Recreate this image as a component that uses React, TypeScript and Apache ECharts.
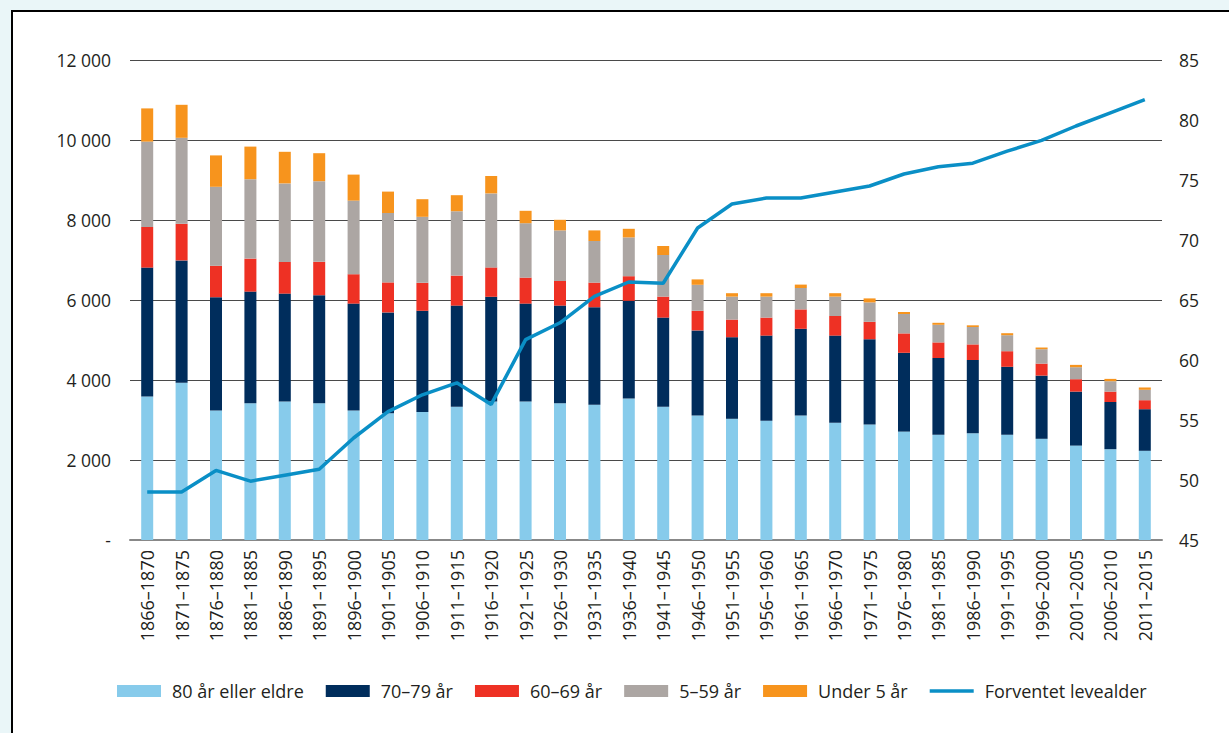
import React, { useEffect, useRef } from "react";
import * as echarts from "echarts";

const categories = [
  "1866–1870", "1871–1875", "1876–1880", "1881–1885", "1886–1890", "1891–1895",
  "1896–1900", "1901–1905", "1906–1910", "1911–1915", "1916–1920", "1921–1925",
  "1926–1930", "1931–1935", "1936–1940", "1941–1945", "1946–1950", "1951–1955",
  "1956–1960", "1961–1965", "1966–1970", "1971–1975", "1976–1980", "1981–1985",
  "1986–1990", "1991–1995", "1996–2000", "2001–2005", "2006–2010", "2011–2015",
];

const age80plus = [3590, 3930, 3240, 3420, 3460, 3420, 3240, 3170, 3200, 3330, 3460, 3460, 3420, 3380, 3540, 3330, 3110, 3030, 2980, 3110, 2930, 2890, 2710, 2630, 2670, 2630, 2530, 2360, 2270, 2230];
const age70to79 = [3220, 3060, 2830, 2790, 2700, 2700, 2670, 2520, 2530, 2530, 2620, 2450, 2440, 2440, 2440, 2230, 2130, 2040, 2130, 2170, 2180, 2130, 1970, 1920, 1830, 1700, 1580, 1350, 1180, 1040];
const age60to69 = [1015, 915, 785, 825, 790, 835, 735, 750, 700, 750, 735, 650, 615, 615, 615, 525, 490, 440, 450, 485, 490, 435, 485, 390, 390, 390, 300, 310, 260, 225];
const age5to59 = [2135, 2150, 1975, 1985, 1965, 2015, 1840, 1735, 1650, 1610, 1850, 1360, 1265, 1040, 970, 1040, 650, 575, 525, 535, 485, 485, 485, 440, 435, 400, 360, 300, 260, 260];
const under5 = [830, 825, 785, 815, 790, 700, 650, 535, 440, 400, 435, 310, 265, 265, 215, 225, 135, 85, 85, 85, 85, 100, 50, 50, 42, 50, 42, 58, 58, 58];
const lifeExpectancy = [49.0, 49.0, 50.8, 49.9, 50.4, 50.9, 53.5, 55.7, 57.1, 58.1, 56.3, 61.7, 63.1, 65.3, 66.5, 66.4, 71.0, 73.0, 73.5, 73.5, 74.0, 74.5, 75.5, 76.1, 76.4, 77.4, 78.3, 79.5, 80.6, 81.7];

const FONT = "'Open Sans', 'Noto Sans', sans-serif";
const TEXT = "#231f20";
const LINE_COLOR = "#0a8fc6";

export default function App() {
  const ref = useRef<HTMLDivElement>(null);

  useEffect(() => {
    if (!ref.current) return;
    const chart = echarts.init(ref.current, null, { renderer: "svg" });
    const barBase = { type: "bar", stack: "total", barWidth: 12, yAxisIndex: 0 };
    chart.setOption({
      animation: false,
      textStyle: { fontFamily: FONT },
      grid: { left: 130, right: 67, top: 60, bottom: 193 },
      legend: {
        left: 112,
        top: 677,
        itemWidth: 44,
        itemHeight: 12,
        itemGap: 22,
        textStyle: { fontFamily: FONT, fontSize: 18, color: TEXT, padding: [0, 0, 0, 6] },
        data: [
          { name: "80 år eller eldre", icon: "rect" },
          { name: "70–79 år", icon: "rect" },
          { name: "60–69 år", icon: "rect" },
          { name: "5–59 år", icon: "rect" },
          { name: "Under 5 år", icon: "rect" },
          { name: "Forventet levealder", icon: "path://M0,0 L44,0 L44,3.5 L0,3.5 Z" },
        ],
      },
      xAxis: {
        type: "category",
        data: categories,
        axisLine: { show: true, lineStyle: { color: "#888", width: 2 } },
        axisTick: { show: false },
        axisLabel: {
          rotate: 90,
          interval: 0,
          fontSize: 18,
          color: TEXT,
          fontFamily: FONT,
          margin: 10,
        },
      },
      yAxis: [
        {
          type: "value",
          min: 0,
          max: 12000,
          interval: 2000,
          axisLine: { show: false },
          axisTick: { show: false },
          splitLine: { lineStyle: { color: "#4a4a4a", width: 1 } },
          axisLabel: {
            fontSize: 17.5,
            color: TEXT,
            fontFamily: FONT,
            margin: 19,
            formatter: (v: number) =>
              v === 0 ? "-" : String(v).replace(/\B(?=(\d{3})+(?!\d))/g, " "),
          },
        },
        {
          type: "value",
          min: 45,
          max: 85,
          interval: 5,
          axisLine: { show: false },
          axisTick: { show: false },
          splitLine: { show: false },
          axisLabel: { fontSize: 17.5, color: TEXT, fontFamily: FONT, margin: 17 },
        },
      ],
      series: [
        { ...barBase, name: "80 år eller eldre", data: age80plus, itemStyle: { color: "#87cbeb" } },
        { ...barBase, name: "70–79 år", data: age70to79, itemStyle: { color: "#002d5c" } },
        { ...barBase, name: "60–69 år", data: age60to69, itemStyle: { color: "#ee3124" } },
        { ...barBase, name: "5–59 år", data: age5to59, itemStyle: { color: "#aca6a3" } },
        { ...barBase, name: "Under 5 år", data: under5, itemStyle: { color: "#f7941d" } },
        {
          type: "line",
          name: "Forventet levealder",
          yAxisIndex: 1,
          data: lifeExpectancy,
          symbol: "none",
          z: 5,
          lineStyle: { color: LINE_COLOR, width: 3.5 },
          itemStyle: { color: LINE_COLOR },
        },
      ],
    });
    return () => chart.dispose();
  }, []);

  return (
    <div style={{ position: "fixed", left: 0, top: 0, width: 1229, height: 733, background: "#eaf6f8", overflow: "hidden" }}>
      <div
        style={{
          position: "absolute",
          left: 11,
          top: 10,
          right: -5,
          bottom: -5,
          background: "#ffffff",
          borderLeft: "2.5px solid #000",
          borderTop: "2.5px solid #000",
        }}
      />
      <div ref={ref} style={{ position: "absolute", left: 0, top: 0, width: 1229, height: 733 }} />
    </div>
  );
}
